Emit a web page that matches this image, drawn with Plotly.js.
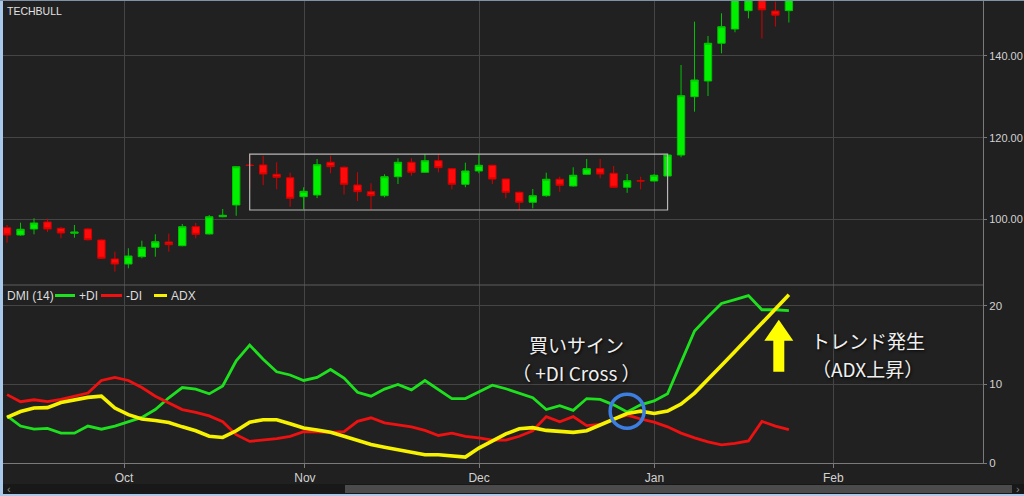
<!DOCTYPE html>
<html>
<head>
<meta charset="utf-8">
<script src="https://cdn.plot.ly/plotly-3.0.1.min.js"></script>
<style>
html,body{margin:0;padding:0;background:#202020;overflow:hidden}
#chart{width:1024px;height:496px}
</style>
</head>
<body>
<div id="chart"></div>
<script>
// ---- Price data (one candle per session) ----
const opens  = [97.97,96.18,97.65,99.36,97.82,96.6,97.65,94.96,90.31,89.08,90.87,93.17,94.47,93.56,98.21,96.43,100.66,103.53,113.3,113.32,111.04,110.2,105.56,105.97,113.98,112.75,108.42,106.78,105.8,110.45,113.98,111.53,114.37,112.4,108.59,111.85,113.24,109.89,106.63,104.19,105.8,109.82,108.18,111.04,112.41,111.28,107.86,109.5,109.4,110.62,115.76,130.04,133.88,143.11,146.6,151.1,155.5,151.0,151.1];
const highs  = [98.63,99.19,100.27,100.17,98.14,98.63,97.9,95.1,92.1,92.93,94.79,96.35,96.5,98.87,99.12,101.08,102.55,113.0,115.8,115.6,113.98,111.43,107.86,114.8,115.6,113.0,111.53,108.84,111.04,114.96,114.96,116.0,116.0,112.6,113.88,116.0,113.4,110.0,106.8,107.44,111.43,110.45,112.75,114.79,114.79,113.07,111.11,110.45,111.1,115.9,137.8,148.4,144.9,150.45,157.0,157.0,156.5,153.3,155.5];
const lows   = [94.3,96.0,96.35,96.92,95.37,95.52,94.8,90.3,87.2,88.03,90.48,90.87,92.1,93.4,95.37,96.3,100.5,100.9,107.7,108.4,107.37,103.1,102.5,105.2,111.3,106.1,104.5,102.47,105.4,108.67,110.7,111.4,111.5,107.37,107.86,111.28,108.67,105.17,102.3,102.7,105.56,106.78,108.0,110.9,110.06,107.8,106.5,107.37,109.3,110.4,115.2,126.37,130.2,140.66,145.8,149.2,144.3,147.2,148.2];
const closes = [96.18,97.58,99.12,97.65,96.67,96.9,95.03,90.48,89.08,91.04,93.17,94.54,93.81,98.21,96.35,100.66,101.0,112.9,113.2,111.11,110.3,105.17,106.88,113.39,112.9,108.59,106.78,105.8,110.45,113.98,111.53,114.37,112.66,108.59,111.85,113.24,109.89,106.63,104.19,105.8,109.82,108.35,110.8,112.41,111.11,107.86,109.47,109.4,110.8,115.76,130.28,134.12,143.11,147.17,155.0,155.5,151.3,150.0,154.5];

// ---- DMI (14) data ----
const plusDI  = [6.0,4.7,4.3,4.4,3.8,3.8,4.7,4.3,4.7,5.2,5.8,6.8,8.3,9.6,9.4,8.8,9.8,13.0,15.0,13.2,11.6,11.2,10.5,10.9,11.9,10.8,9.0,8.5,9.4,10.0,9.3,10.5,9.3,8.2,8.2,9.1,9.9,9.45,8.85,8.3,6.8,7.3,6.7,8.2,8.1,7.4,6.5,7.4,7.9,8.8,12.8,16.8,18.6,20.3,20.8,21.3,19.5,19.5,19.4];
const minusDI = [8.7,7.8,8.05,7.8,8.1,8.5,8.9,10.5,10.9,10.5,9.6,8.5,7.7,6.8,6.45,6.0,5.25,3.6,2.75,2.95,3.1,3.4,4.0,3.95,3.9,4.0,5.3,5.75,5.1,4.85,4.6,4.15,3.5,3.8,3.4,3.2,2.9,2.9,3.4,4.1,5.9,5.25,5.9,4.75,4.9,5.6,6.1,5.6,5.2,4.6,3.8,3.2,2.7,2.3,2.5,2.8,5.3,4.7,4.25];
const adx     = [5.8,6.55,7.0,7.05,7.7,8.05,8.35,8.5,7.0,6.15,5.6,5.4,5.15,4.6,4.1,3.4,3.25,4.1,5.2,5.5,5.5,5.0,4.45,4.2,3.9,3.4,2.9,2.35,2.0,1.7,1.35,1.05,1.05,0.85,0.75,1.9,2.75,3.7,4.35,4.5,4.15,4.0,3.9,4.1,4.8,5.5,6.3,6.6,6.3,6.6,7.5,8.9,10.6,12.4,14.2,16.0,17.9,19.7,21.4];

// ---- Axis tick labels ----
const monthLabels    = ['Oct','Nov','Dec','Jan','Feb'];
const monthPositions = [8.68, 22.1, 35.02, 48.03, 61.3];

// ---- Series names / colours ----
const seriesNames  = ['+DI', '-DI', 'ADX'];
const seriesColors = ['#1fe01f', '#ee1111', '#f7f300'];
const seriesWidths = [2.8, 2.8, 3.6];
const seriesData   = [plusDI, minusDI, adx];

// ---- Callout texts ----
const buyLines   = ['買いサイン', '（ +DI Cross ）'];
const trendLines = ['トレンド発生', '（ADX上昇）'];

const sessions = opens.map((_, i) => i);

// consolidation box derived from the data (sessions 18..49)
const boxStart = 18, boxEnd = 49;
const boxLow  = Math.min(...lows.slice(boxStart, boxEnd + 1));
const boxHigh = Math.max(...highs.slice(boxStart, boxEnd + 1));

// +DI / ADX crossing point (closest approach near the breakout)
let crossIdx = 40;
for (let i = 40; i < 50; i++) {
  if (Math.abs(plusDI[i] - adx[i]) < Math.abs(plusDI[crossIdx] - adx[crossIdx])) crossIdx = i;
}
const crossVal = (plusDI[crossIdx] + adx[crossIdx]) / 2 + 0.2;

// pixel -> paper helpers for chrome / annotations
const L = 3, R = 983, T = 1, B = 463;
const PX = p => (p - L) / (R - L);
const PY = p => (B - p) / (B - T);
const SPLIT = PY(285);

const FONT = 'Liberation Sans, Arial, sans-serif';
const JP = 'Noto Sans CJK JP, Noto Sans, sans-serif';
const GRID = '#454545';
const AXIS = '#7a7a7a';
const TXT = '#d2d2d2';

const traces = [
  {
    type: 'candlestick', x: sessions, open: opens, high: highs, low: lows, close: closes,
    xaxis: 'x', yaxis: 'y', showlegend: false, hoverinfo: 'skip', whiskerwidth: 0,
    increasing: {line: {color: '#00c400', width: 1}, fillcolor: '#00f000'},
    decreasing: {line: {color: '#d40000', width: 1}, fillcolor: '#ff0a0a'}
  }
];
seriesNames.forEach((n, k) => traces.push({
  type: 'scatter', mode: 'lines', name: n, x: sessions, y: seriesData[k], xaxis: 'x', yaxis: 'y2',
  showlegend: false, hoverinfo: 'skip', line: {color: seriesColors[k], width: seriesWidths[k]}
}));

const arrowX = 778.8, arrowBottom = 371.7;
const ap = (dx, dy) => PX(arrowX + dx) + ',' + PY(arrowBottom - dy);
const arrowPath = 'M' + ap(-5.5,0) + ' L' + ap(5.5,0) + ' L' + ap(5.5,31) + ' L' + ap(14.5,31) +
                  ' L' + ap(0,52) + ' L' + ap(-14.5,31) + ' L' + ap(-5.5,31) + ' Z';

const shapes = [
  // consolidation rectangle
  {type: 'rect', xref: 'x', yref: 'y', x0: boxStart, x1: boxEnd, y0: boxLow, y1: boxHigh,
   line: {color: '#b8b8b8', width: 1.2}, fillcolor: 'rgba(0,0,0,0)'},
  // panel separator
  {type: 'line', xref: 'paper', yref: 'paper', x0: 0, x1: 1, y0: SPLIT, y1: SPLIT,
   line: {color: '#5e5e5e', width: 1.2}},
  // crossing circle
  {type: 'circle', xref: 'x', yref: 'y2', xsizemode: 'pixel', ysizemode: 'pixel',
   xanchor: crossIdx, yanchor: crossVal, x0: -17, x1: 17, y0: -17, y1: 17,
   line: {color: '#3d7fe0', width: 3.5}},
  // yellow arrow
  {type: 'path', xref: 'paper', yref: 'paper', path: arrowPath,
   fillcolor: '#ffff00', line: {width: 0}},
  // scrollbar track and thumb
  {type: 'rect', xref: 'paper', yref: 'paper', x0: PX(3), x1: PX(1024), y0: PY(494), y1: PY(484),
   fillcolor: '#181818', line: {width: 0}},
  {type: 'rect', xref: 'paper', yref: 'paper', x0: PX(345), x1: PX(1012), y0: PY(493), y1: PY(485),
   fillcolor: '#4b4b4b', line: {width: 0}},
  // window frame
  {type: 'rect', xref: 'paper', yref: 'paper', x0: PX(0), x1: PX(3), y0: PY(496), y1: PY(0),
   fillcolor: '#a9c9ea', line: {width: 0}},
  {type: 'rect', xref: 'paper', yref: 'paper', x0: PX(0), x1: PX(1024), y0: PY(496), y1: PY(494),
   fillcolor: '#a9c9ea', line: {width: 0}},
  {type: 'line', xref: 'paper', yref: 'paper', x0: PX(0), x1: PX(1024), y0: PY(0.5), y1: PY(0.5),
   line: {color: '#7f93a8', width: 1}}
];

const calloutFont = {family: JP, size: 19, color: '#f0f0f0', shadow: '1px 1px 3px #000'};
const callout = (text, px, py) => ({xref: 'paper', yref: 'paper', x: PX(px), y: PY(py),
  xanchor: 'center', yanchor: 'middle', showarrow: false, text: text, font: calloutFont, borderpad: 0});

const annotations = [
  {xref: 'paper', yref: 'paper', x: PX(5), y: PY(3), xanchor: 'left', yanchor: 'top', showarrow: false,
   text: 'TECHBULL', font: {family: FONT, size: 10.5, color: '#e2e2e2'}},
  callout(buyLines[0], 576.7, 344.5),
  callout(buyLines[1], 576.7, 372.5),
  callout(trendLines[0], 868, 340.5),
  callout(trendLines[1], 867.5, 368.7),
  {xref: 'paper', yref: 'paper', x: PX(9), y: PY(489), xanchor: 'center', yanchor: 'middle', showarrow: false,
   text: '‹', font: {family: FONT, size: 11, color: '#8a8a8a'}},
  {xref: 'paper', yref: 'paper', x: PX(1018), y: PY(489), xanchor: 'center', yanchor: 'middle', showarrow: false,
   text: '›', font: {family: FONT, size: 11, color: '#8a8a8a'}},
  // legend header
  {xref: 'paper', yref: 'paper', x: PX(5), y: PY(295.5), xanchor: 'left', yanchor: 'middle', showarrow: false,
   text: 'DMI (14)', font: {family: FONT, size: 12, color: '#dcdcdc'}}
];

// compact legend (line sample + label per series)
const legendSample = [[55, 75], [101, 122], [154, 167]];
const legendText   = [77, 123.5, 168.5];
seriesNames.forEach((n, k) => {
  shapes.push({type: 'line', xref: 'paper', yref: 'paper',
    x0: PX(legendSample[k][0]), x1: PX(legendSample[k][1]), y0: PY(295.5), y1: PY(295.5),
    line: {color: seriesColors[k], width: 3}});
  annotations.push({xref: 'paper', yref: 'paper', x: PX(legendText[k]), y: PY(295.5),
    xanchor: 'left', yanchor: 'middle', showarrow: false, text: n,
    font: {family: FONT, size: 12, color: '#dcdcdc'}});
});

const layout = {
  width: 1024, height: 496,
  margin: {l: L, r: 1024 - R, t: T, b: 496 - B},
  paper_bgcolor: '#202020', plot_bgcolor: '#212121',
  font: {family: FONT, color: TXT, size: 12},
  boxgap: 0.22,
  showlegend: false,
  xaxis: {
    anchor: 'y2', range: [-0.3, 72.4], tickmode: 'array', tickvals: monthPositions, ticktext: monthLabels,
    showgrid: true, gridcolor: GRID, gridwidth: 1, zeroline: false,
    showline: true, linecolor: AXIS, ticks: 'outside', ticklen: 4, tickcolor: AXIS,
    tickfont: {family: FONT, size: 12, color: TXT}, rangeslider: {visible: false}, fixedrange: true
  },
  yaxis: {
    domain: [SPLIT, 1], range: [83.94, 153.46], side: 'right', anchor: 'x',
    tick0: 0, dtick: 20, tickformat: '.2f', showgrid: true, gridcolor: GRID, zeroline: false,
    showline: true, linecolor: AXIS, ticks: 'outside', ticklen: 3, tickcolor: AXIS,
    tickfont: {family: FONT, size: 11, color: TXT}, fixedrange: true
  },
  yaxis2: {
    domain: [0, SPLIT], range: [0, 22.65], side: 'right', anchor: 'x',
    tick0: 0, dtick: 10, showgrid: true, gridcolor: GRID, zeroline: false,
    showline: true, linecolor: AXIS, ticks: 'outside', ticklen: 3, tickcolor: AXIS,
    tickfont: {family: FONT, size: 11.5, color: TXT}, fixedrange: true
  },
  shapes: shapes,
  annotations: annotations
};

Plotly.newPlot('chart', traces, layout, {staticPlot: true, displayModeBar: false});
</script>
</body>
</html>
